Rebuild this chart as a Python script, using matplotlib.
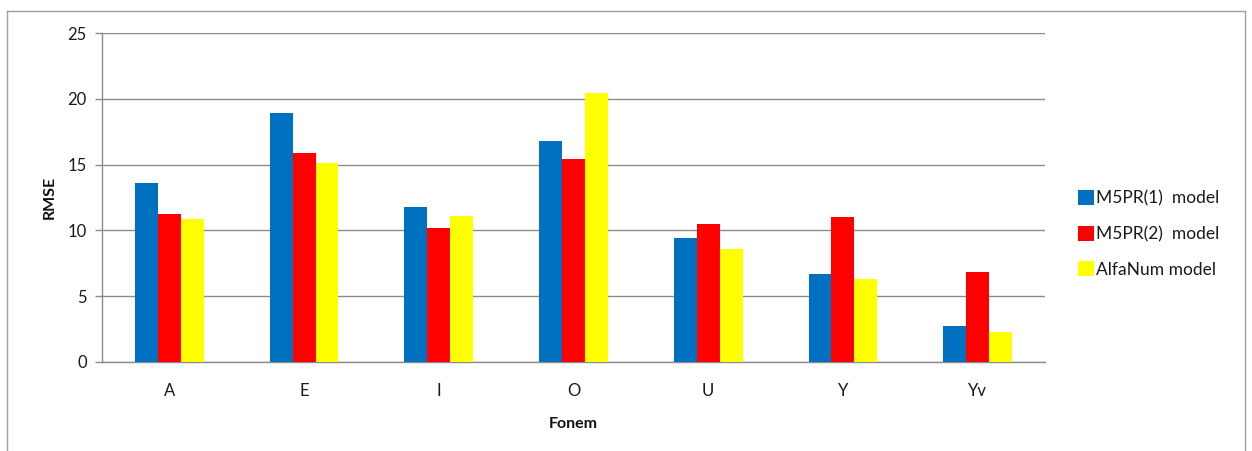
import matplotlib
matplotlib.use("Agg")
import matplotlib.pyplot as plt
from matplotlib.lines import Line2D
from matplotlib.patches import Patch
import numpy as np

plt.rcParams['font.family'] = ['Lato', 'DejaVu Sans']

categories = ["A", "E", "I", "O", "U", "Y", "Yv"]
m5pr1 = [13.6, 18.9, 11.8, 16.8, 9.45, 6.65, 2.75]
m5pr2 = [11.25, 15.85, 10.15, 15.4, 10.45, 11.0, 6.85]
alfanum = [10.9, 15.15, 11.1, 20.45, 8.55, 6.3, 2.3]
series_names = ["M5PR(1)  model", "M5PR(2)  model", "AlfaNum model"]
colors = ["#0070C0", "#FF0000", "#FFFF00"]
y_ticks = [0, 5, 10, 15, 20, 25]

W, H = 1252, 451
fig = plt.figure(figsize=(W / 100, H / 100), dpi=100)
fig.patch.set_facecolor("white")

ax = fig.add_axes([102 / W, 1 - 362 / H, (1045 - 102) / W, (362 - 33) / H])

x = np.arange(len(categories))
bw = 0.17
for i, (vals, col) in enumerate(zip([m5pr1, m5pr2, alfanum], colors)):
    ax.bar(x + (i - 1) * bw, vals, width=bw, color=col, edgecolor="none",
           zorder=3, label=series_names[i])

grid_col = "#8C8C8C"
ax.set_xlim(-0.5, len(categories) - 0.5)
ax.set_ylim(0, 25)
ax.set_yticks(y_ticks)
ax.set_xticks(x)
ax.set_xticklabels(categories)
ax.yaxis.grid(True, color=grid_col, linewidth=1.0, zorder=0)
ax.set_axisbelow(True)

for s in ["top", "right"]:
    ax.spines[s].set_visible(False)
for s in ["left", "bottom"]:
    ax.spines[s].set_color(grid_col)
    ax.spines[s].set_linewidth(1.0)

ax.tick_params(axis="y", length=5, color=grid_col, width=1.0, pad=6,
               labelsize=12, labelcolor="#1a1a1a")
ax.tick_params(axis="x", length=0, pad=15, labelsize=12, labelcolor="#1a1a1a")

ax.set_ylabel("RMSE", fontsize=11.5, fontweight="bold", labelpad=8, color="#111111")
ax.set_xlabel("Fonem", fontsize=11.5, fontweight="bold", labelpad=13, color="#111111")

handles = [Patch(facecolor=c, edgecolor="none") for c in colors]
leg = fig.legend(handles, series_names, loc="center left",
                 bbox_to_anchor=(1069 / W, 1 - 234 / H), frameon=False,
                 fontsize=12.5, handlelength=0.95, handleheight=0.95,
                 handletextpad=0.08, labelspacing=1.1, borderpad=0)
for t in leg.get_texts():
    t.set_color("#1a1a1a")

# chart frame
bc = "#A0A0A0"
fig.add_artist(Line2D([7 / W, 7 / W], [0, 1 - 11 / H], transform=fig.transFigure, color=bc, lw=1))
fig.add_artist(Line2D([7 / W, 1245 / W], [1 - 11 / H, 1 - 11 / H], transform=fig.transFigure, color=bc, lw=1))
fig.add_artist(Line2D([1245 / W, 1245 / W], [0, 1 - 11 / H], transform=fig.transFigure, color=bc, lw=1))

fig.savefig("out.png", dpi=100, facecolor="white")
